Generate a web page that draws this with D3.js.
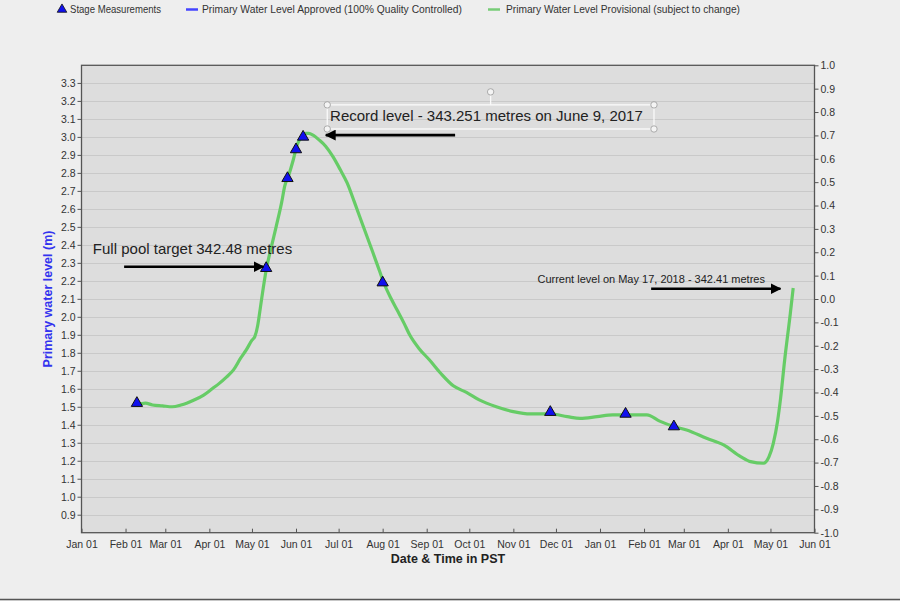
<!DOCTYPE html>
<html><head><meta charset="utf-8">
<script src="https://cdn.jsdelivr.net/npm/d3@7"></script>
<style>
html,body{margin:0;padding:0;background:#eeeeee;}
svg{display:block;}
text{font-family:"Liberation Sans",Arial,sans-serif;}
</style></head>
<body>
<script>
// ---- data ----
const levelDates = ["2017-02-09","2017-02-15","2017-02-20","2017-02-27","2017-03-06","2017-03-12","2017-03-16","2017-03-22","2017-03-28","2017-04-03","2017-04-08","2017-04-13","2017-04-18","2017-04-23","2017-04-27","2017-05-01","2017-05-03","2017-05-05","2017-05-06","2017-05-08","2017-05-11","2017-05-15","2017-05-18","2017-05-22","2017-05-24","2017-05-27","2017-05-30","2017-06-02","2017-06-05","2017-06-08","2017-06-10","2017-06-13","2017-06-17","2017-06-22","2017-06-27","2017-07-02","2017-07-07","2017-07-12","2017-07-18","2017-07-25","2017-07-30","2017-08-02","2017-08-07","2017-08-11","2017-08-16","2017-08-20","2017-08-27","2017-09-03","2017-09-11","2017-09-20","2017-09-29","2017-10-08","2017-10-20","2017-11-01","2017-11-13","2017-11-27","2017-12-09","2017-12-18","2017-12-30","2018-01-10","2018-01-19","2018-02-03","2018-02-12","2018-02-22","2018-03-03","2018-03-17","2018-03-29","2018-04-10","2018-04-17","2018-04-26","2018-04-30","2018-05-03","2018-05-06","2018-05-08","2018-05-11","2018-05-15","2018-05-17"];
const levelValues = [1.51,1.52,1.51,1.505,1.50,1.51,1.52,1.54,1.565,1.60,1.63,1.665,1.705,1.77,1.816,1.87,1.89,1.95,2.00,2.11,2.26,2.40,2.50,2.64,2.725,2.79,2.87,2.96,3.00,3.02,3.02,3.01,2.985,2.947,2.89,2.82,2.744,2.64,2.51,2.36,2.25,2.185,2.10,2.04,1.965,1.90,1.82,1.76,1.685,1.615,1.58,1.538,1.50,1.473,1.46,1.46,1.445,1.435,1.445,1.455,1.455,1.455,1.42,1.39,1.371,1.325,1.288,1.223,1.195,1.186,1.223,1.297,1.42,1.538,1.76,2.02,2.16];
const stageDates = ["2017-02-09","2017-05-11","2017-05-26","2017-06-01","2017-06-06","2017-08-01","2017-11-27","2018-01-19","2018-02-22"];
const stageValues = [1.52,2.27,2.77,2.93,3.00,2.19,1.47,1.46,1.39];
const leftTicks = [0.9,1.0,1.1,1.2,1.3,1.4,1.5,1.6,1.7,1.8,1.9,2.0,2.1,2.2,2.3,2.4,2.5,2.6,2.7,2.8,2.9,3.0,3.1,3.2,3.3];
const rightTicks = [-1.0,-0.9,-0.8,-0.7,-0.6,-0.5,-0.4,-0.3,-0.2,-0.1,0.0,0.1,0.2,0.3,0.4,0.5,0.6,0.7,0.8,0.9,1.0];
const legendLabels = ["Stage Measurements","Primary Water Level Approved (100% Quality Controlled)","Primary Water Level Provisional (subject to change)"];
const annTexts = ["Full pool target 342.48 metres","Record level - 343.251 metres on June 9, 2017","Current level on May 17, 2018 - 342.41 metres"];
const annTextDates = ["2017-01-09","2017-06-25","2017-11-18"];
const annTextValues = [2.35,3.09,2.19];
const arrowFromDates = ["2017-01-31","2017-09-21","2018-02-06"];
const arrowToDates = ["2017-05-09","2017-06-22","2018-05-08"];
const arrowValues = [2.278,3.01,2.156];

// ---- layout ----
const W=900,H=601;
const L=81.5,R=814.5,T=65.3,B=532.7;
const parse=d3.utcParse("%Y-%m-%d");
const svg=d3.select("body").append("svg").attr("width",W).attr("height",H);
svg.append("rect").attr("width",W).attr("height",H).attr("fill","#eeeeee");
svg.append("line").attr("x1",0).attr("x2",W).attr("y1",599.5).attr("y2",599.5).attr("stroke","#555").attr("stroke-width",1.5);

const x=d3.scaleUtc().domain([parse("2017-01-01"),parse("2018-06-01")]).range([L,R]);
const y=d3.scaleLinear().domain([0.8,3.398]).range([B,T]);
const y2=d3.scaleLinear().domain([-1,1]).range([B,T]);

svg.append("rect").attr("x",L).attr("y",T).attr("width",R-L).attr("height",B-T).attr("fill","#dddddd");
// grid
svg.append("g").selectAll("line").data(leftTicks).join("line")
 .attr("x1",L).attr("x2",R).attr("y1",d=>Math.round(y(d))+0.5).attr("y2",d=>Math.round(y(d))+0.5)
 .attr("stroke","#c9c9c9").attr("stroke-width",1);

// axes
const fmt=d=>d.toFixed(1);
const gl=svg.append("g").attr("transform",`translate(${L},0)`).call(d3.axisLeft(y).tickValues(leftTicks).tickFormat(fmt).tickSize(4).tickPadding(2));
const gr=svg.append("g").attr("transform",`translate(${R},0)`).call(d3.axisRight(y2).tickValues(rightTicks).tickFormat(fmt).tickSize(4).tickPadding(2));
const monthTicks=d3.utcMonth.range(parse("2017-01-01"),parse("2018-06-02"));
const gb=svg.append("g").attr("transform",`translate(0,${B})`).call(d3.axisBottom(x).tickValues(monthTicks).tickFormat(d3.utcFormat("%b %d")).tickSizeInner(-4).tickSizeOuter(0).tickPadding(8));
[gl,gr,gb].forEach(g=>{
  g.selectAll("text").attr("fill","#333").style("font-size","10.5px").style("font-family",'"Liberation Sans",Arial,sans-serif');
  g.selectAll("line").attr("stroke","#555");
  g.select(".domain").remove();
});
svg.append("rect").attr("x",L).attr("y",T).attr("width",R-L).attr("height",B-T).attr("fill","none").attr("stroke","#555").attr("stroke-width",1.3);

// axis titles
svg.append("text").attr("transform",`translate(52,${(T+B)/2}) rotate(-90)`).attr("text-anchor","middle")
 .attr("fill","#3333ee").style("font-weight","bold").style("font-size","12.5px").text("Primary water level (m)");
svg.append("text").attr("x",448).attr("y",563).attr("text-anchor","middle")
 .attr("fill","#222").style("font-weight","bold").style("font-size","12.5px").text("Date & Time in PST");

// line
const lineData=levelDates.map((d,i)=>({d:parse(d),v:levelValues[i]}));
svg.append("path").datum(lineData).attr("fill","none").attr("stroke","#66cc66").attr("stroke-width",3.2).attr("stroke-linejoin","round")
 .attr("d",d3.line().x(p=>x(p.d)).y(p=>y(p.v)).curve(d3.curveMonotoneX));

// stage markers
const tri=d3.symbol().type(d3.symbolTriangle).size(55);
svg.append("g").selectAll("path").data(stageDates.map((d,i)=>({d:parse(d),v:stageValues[i]}))).join("path")
 .attr("d",tri).attr("transform",p=>`translate(${x(p.d)},${y(p.v)})`).attr("fill","#1010ee").attr("stroke","#111").attr("stroke-width",1);

// annotations
svg.append("defs").append("marker").attr("id","ah").attr("viewBox","0 0 10 10").attr("refX",9).attr("refY",5)
 .attr("markerWidth",4.2).attr("markerHeight",4.2).attr("orient","auto").attr("markerUnits","strokeWidth")
 .append("path").attr("d","M0,0L10,5L0,10Z").attr("fill","#000");
arrowFromDates.forEach((d,i)=>{
  svg.append("line").attr("x1",x(parse(d))).attr("x2",x(parse(arrowToDates[i]))).attr("y1",y(arrowValues[i])).attr("y2",y(arrowValues[i]))
   .attr("stroke","#000").attr("stroke-width",2.6).attr("marker-end","url(#ah)");
});
// record box with handles
const bx0=x(parse("2017-06-23")),bx1=x(parse("2018-02-08")),by0=y(3.178),by1=y(3.044);
svg.append("rect").attr("x",bx0).attr("y",by0).attr("width",bx1-bx0).attr("height",by1-by0).attr("fill","none").attr("stroke","#fafafa").attr("stroke-width",1.3);
svg.append("line").attr("x1",(bx0+bx1)/2).attr("x2",(bx0+bx1)/2).attr("y1",by0).attr("y2",by0-13).attr("stroke","#fafafa").attr("stroke-width",1.3);
[[bx0,by0],[bx1,by0],[bx0,by1],[bx1,by1],[(bx0+bx1)/2,by0-13]].forEach(c=>{
  svg.append("circle").attr("cx",c[0]).attr("cy",c[1]).attr("r",3.2).attr("fill","#f4f4f4").attr("stroke","#999").attr("stroke-width",0.8);
});
const annSizes=["15px","15px","11px"];
annTexts.forEach((t,i)=>{
  svg.append("text").attr("x",x(parse(annTextDates[i]))).attr("y",y(annTextValues[i]))
   .attr("fill","#222").style("font-size",annSizes[i]).text(t);
});

// legend
const lg=svg.append("g").attr("transform","translate(0,9)");
lg.append("path").attr("d",d3.symbol().type(d3.symbolTriangle).size(40)).attr("transform","translate(62,0.5)").attr("fill","#1010ee").attr("stroke","#111").attr("stroke-width",0.8);
const legX=[70,202,506], legW=[91,260,234];
lg.append("line").attr("x1",186).attr("x2",198).attr("y1",0.5).attr("y2",0.5).attr("stroke","#4444ff").attr("stroke-width",2.5);
lg.append("line").attr("x1",488).attr("x2",500).attr("y1",0.5).attr("y2",0.5).attr("stroke","#77cc77").attr("stroke-width",2.5);
legendLabels.forEach((t,i)=>{
  lg.append("text").attr("x",legX[i]).attr("y",4).style("font-size","11px").attr("fill","#333")
    .attr("textLength",legW[i]).attr("lengthAdjust","spacingAndGlyphs").text(t);
});
</script>
</body></html>
